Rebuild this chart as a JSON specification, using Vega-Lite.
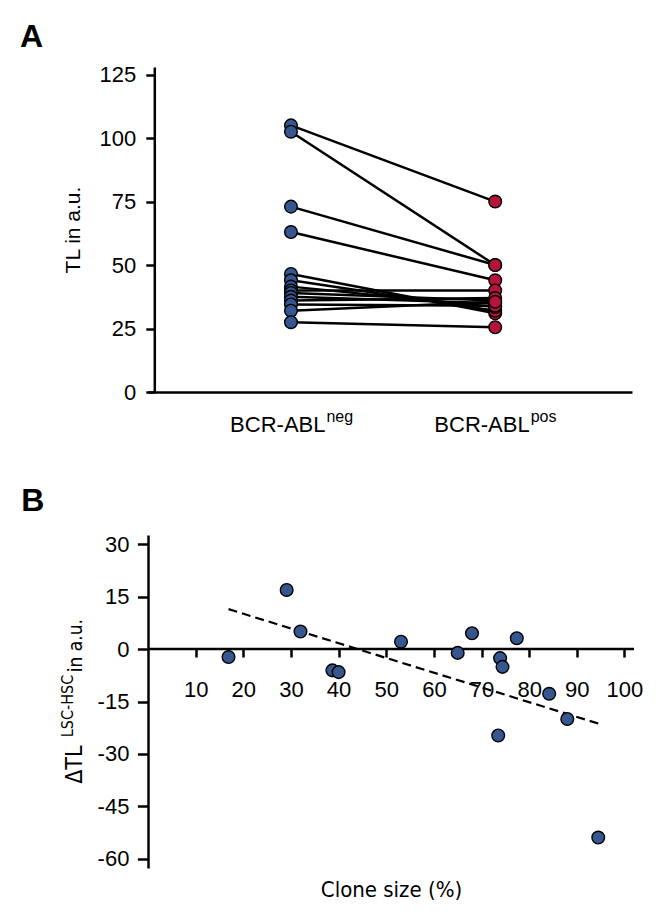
{
  "$schema": "https://vega.github.io/schema/vega-lite/v6.json",
  "background": "white",
  "padding": {"left": 20, "top": 20, "right": 5, "bottom": 5},
  "spacing": 50,
  "config": {
    "view": {"stroke": null},
    "font": "Liberation Sans",
    "axis": {
      "grid": false,
      "domainColor": "black",
      "domainWidth": 2.5,
      "tickColor": "black",
      "tickWidth": 2.5,
      "labelColor": "black",
      "titleColor": "black",
      "labelFont": "Liberation Sans",
      "titleFont": "Liberation Sans",
      "titleFontWeight": "normal"
    }
  },
  "vconcat": [
    {
      "title": {"text": "A", "anchor": "start", "frame": "group", "dx": -128, "fontSize": 32, "fontWeight": "bold", "baseline": "alphabetic", "offset": -15, "font": "Liberation Sans", "color": "black"},
      "width": 484,
      "height": 325,
      "data": {
        "values": [
          {"pair": 1, "group": "neg", "tl": 105}, {"pair": 1, "group": "pos", "tl": 75},
          {"pair": 2, "group": "neg", "tl": 102.5}, {"pair": 2, "group": "pos", "tl": 50},
          {"pair": 3, "group": "neg", "tl": 73}, {"pair": 3, "group": "pos", "tl": 50},
          {"pair": 4, "group": "neg", "tl": 63}, {"pair": 4, "group": "pos", "tl": 44},
          {"pair": 5, "group": "neg", "tl": 46.5}, {"pair": 5, "group": "pos", "tl": 31},
          {"pair": 6, "group": "neg", "tl": 44}, {"pair": 6, "group": "pos", "tl": 32},
          {"pair": 7, "group": "neg", "tl": 41.5}, {"pair": 7, "group": "pos", "tl": 33.5},
          {"pair": 8, "group": "neg", "tl": 40}, {"pair": 8, "group": "pos", "tl": 40},
          {"pair": 9, "group": "neg", "tl": 39}, {"pair": 9, "group": "pos", "tl": 36},
          {"pair": 10, "group": "neg", "tl": 37.5}, {"pair": 10, "group": "pos", "tl": 35},
          {"pair": 11, "group": "neg", "tl": 36}, {"pair": 11, "group": "pos", "tl": 37},
          {"pair": 12, "group": "neg", "tl": 34.5}, {"pair": 12, "group": "pos", "tl": 34},
          {"pair": 13, "group": "neg", "tl": 32}, {"pair": 13, "group": "pos", "tl": 35.5},
          {"pair": 14, "group": "neg", "tl": 27.5}, {"pair": 14, "group": "pos", "tl": 25.5}
        ]
      },
      "layer": [
        {
          "mark": {"type": "line", "color": "black", "strokeWidth": 2.5},
          "encoding": {
            "x": {
              "field": "group", "type": "nominal",
              "scale": {"type": "point", "padding": 0.685, "align": 0.511, "domain": ["neg", "pos"]},
              "axis": {"orient": "bottom", "title": null, "labelAngle": 0, "labelAlign": "left", "labelOffset": 35, "labelFontSize": 16, "labelPadding": 16, "domain": false, "ticks": false, "tickSize": 0}
            },
            "y": {
              "field": "tl", "type": "quantitative",
              "scale": {"domain": [0, 128], "nice": false, "zero": false},
              "axis": {"orient": "left", "title": "TL in a.u.", "values": [0, 25, 50, 75, 100, 125], "offset": -6.3, "tickSize": 8.5, "labelPadding": 10, "labelFontSize": 22, "titleFont": "Liberation Sans", "titleFontSize": 21, "titleAngle": 270, "titleAlign": "center", "titleBaseline": "alphabetic", "titleX": -75, "titleY": 162.5}
            },
            "detail": {"field": "pair", "type": "nominal"}
          }
        },
        {
          "mark": {"type": "circle", "size": 160, "stroke": "black", "strokeWidth": 1.4, "opacity": 1},
          "encoding": {
            "x": {
              "field": "group", "type": "nominal",
              "scale": {"type": "point", "padding": 0.685, "align": 0.511, "domain": ["neg", "pos"]},
              "axis": {"orient": "bottom", "title": null, "labelExpr": "'BCR-ABL'", "labelAngle": 0, "labelAlign": "right", "labelOffset": 34, "labelFontSize": 22, "labelPadding": 22, "domain": true, "ticks": false, "tickSize": 0}
            },
            "y": {"field": "tl", "type": "quantitative"},
            "fill": {"field": "group", "type": "nominal", "scale": {"domain": ["neg", "pos"], "range": ["#35568f", "#b5123c"]}, "legend": null}
          }
        }
      ],
      "resolve": {"scale": {"x": "independent"}}
    },
    {
      "title": {"text": "B", "anchor": "start", "frame": "group", "dx": -126.7, "fontSize": 32, "fontWeight": "bold", "baseline": "alphabetic", "offset": -10, "font": "Liberation Sans", "color": "black"},
      "width": 486,
      "height": 333,
      "layer": [
        {
          "data": {"values": [{"z": 0}]},
          "mark": {"type": "rule", "color": "black", "strokeWidth": 2.5},
          "encoding": {
            "y": {
              "field": "z", "type": "quantitative",
              "scale": {"domain": [-62.6, 32.6], "nice": false, "zero": false},
              "axis": {"orient": "left", "title": "in a.u.", "labels": false, "ticks": false, "domain": false, "titleFont": "'DejaVu Sans Condensed', 'Liberation Sans', sans-serif", "titleFontSize": 19, "titleAngle": 270, "titleAlign": "left", "titleBaseline": "alphabetic", "titleX": -66.7, "titleY": 136.7}
            }
          }
        },
        {
          "data": {"values": [{"cs": 16.9, "d": 11.4}, {"cs": 94.5, "d": -21.3}]},
          "mark": {"type": "line", "color": "black", "strokeWidth": 2.2, "strokeDash": [9, 5]},
          "encoding": {
            "x": {"field": "cs", "type": "quantitative"},
            "y": {
              "field": "d", "type": "quantitative",
              "scale": {"domain": [-62.6, 32.6], "nice": false, "zero": false},
              "axis": {"orient": "left", "title": "LSC-HSC", "labels": false, "ticks": false, "domain": false, "titleFont": "'DejaVu Sans Condensed', 'Liberation Sans', sans-serif", "titleFontSize": 16, "titleAngle": 270, "titleAlign": "left", "titleBaseline": "alphabetic", "titleX": -75.4, "titleY": 201.7}
            }
          }
        },
        {
          "data": {
            "values": [
              {"cs": 16.9, "d": -2.3}, {"cs": 29.1, "d": 16.9}, {"cs": 32.0, "d": 5.0},
              {"cs": 38.7, "d": -6.1}, {"cs": 40.0, "d": -6.6}, {"cs": 53.1, "d": 2.1},
              {"cs": 65.0, "d": -1.1}, {"cs": 68.0, "d": 4.5}, {"cs": 73.9, "d": -2.6},
              {"cs": 74.4, "d": -5.1}, {"cs": 77.4, "d": 3.1}, {"cs": 84.2, "d": -12.8},
              {"cs": 73.5, "d": -24.7}, {"cs": 88.0, "d": -20.0}, {"cs": 94.5, "d": -53.9}
            ]
          },
          "mark": {"type": "circle", "size": 160, "fill": "#35568f", "stroke": "black", "strokeWidth": 1.4, "opacity": 1},
          "encoding": {
            "x": {
              "field": "cs", "type": "quantitative",
              "scale": {"domain": [0, 102], "nice": false, "zero": false},
              "axis": {"orient": "bottom", "offset": -219, "values": [10, 20, 30, 40, 50, 60, 70, 80, 90, 100], "domain": false, "tickSize": 8, "labelPadding": 22, "labelFontSize": 22, "title": "Clone size (%)", "titleFont": "'DejaVu Sans Condensed', 'Liberation Sans', sans-serif", "titleFontSize": 22, "titleAlign": "center", "titleBaseline": "alphabetic", "titleX": 243, "titleY": 247.4}
            },
            "y": {
              "field": "d", "type": "quantitative",
              "scale": {"domain": [-62.6, 32.6], "nice": false, "zero": false},
              "axis": {"orient": "left", "title": "ΔTL", "values": [30, 15, 0, -15, -30, -45, -60], "labelExpr": "'' + datum.value", "tickSize": 10.6, "labelPadding": 8.5, "labelFontSize": 22, "titleFont": "'DejaVu Sans Condensed', 'Liberation Sans', sans-serif", "titleFontSize": 23, "titleAngle": 270, "titleAlign": "left", "titleBaseline": "alphabetic", "titleX": -67, "titleY": 248.3}
            }
          }
        }
      ],
      "resolve": {"scale": {"y": "independent"}}
    }
  ]
}
